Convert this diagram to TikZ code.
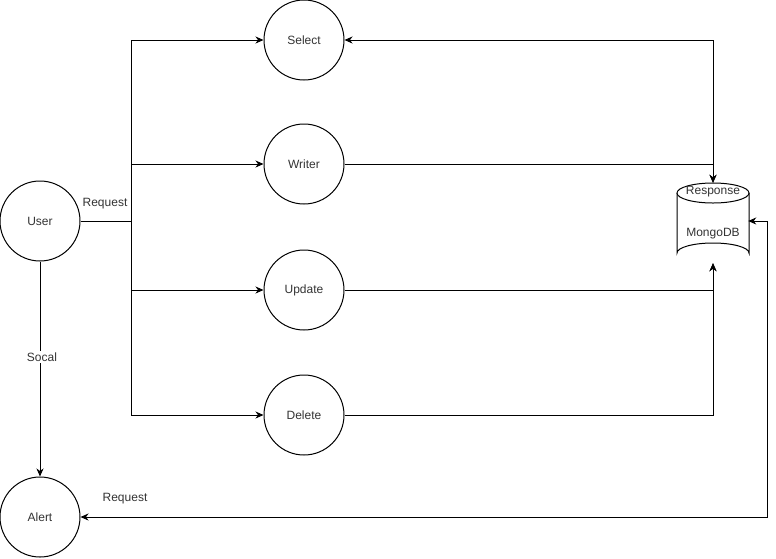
\documentclass[tikz,border=0pt]{standalone}
\usepackage{fontspec}
\setmainfont{Liberation Sans}
\usetikzlibrary{arrows.meta,calc}
\begin{document}
\begin{tikzpicture}[x=1pt,y=-1pt,
  every node/.style={font=\fontsize{12}{14}\selectfont, text=black!80},
  proc/.style={circle, draw, line width=1pt, minimum size=80pt, inner sep=0pt},
  conn/.style={line width=1pt, -{Stealth[length=8pt,width=7pt,inset=2.5pt]}},
  bconn/.style={line width=1pt, {Stealth[length=8pt,width=7pt,inset=2.5pt]}-{Stealth[length=8pt,width=7pt,inset=2.5pt]}},
  plain/.style={line width=1pt},
  lbl/.style={fill=white, inner sep=2pt}]
\useasboundingbox (0,0) rectangle (776,558);
\node[proc] (user) at (40,221) {User};
\node[proc] (alert) at (40,517) {Alert};
\node[proc] (select) at (304,40) {Select};
\node[proc] (writer) at (304,164) {Writer};
\node[proc] (update) at (304,290) {Update};
\node[proc] (delete) at (304,415) {Delete};
% MongoDB cylinder
\node[minimum width=70pt, minimum height=80pt, inner sep=0pt] (mongo) at (713,223) {};
\draw[line width=1pt, fill=white] (677,193) -- (677,253) arc[start angle=180, end angle=360, x radius=36, y radius=10] -- (749,193);
\draw[line width=1pt, fill=white] (713,193) ellipse[x radius=36, y radius=10];
\node (resp) at (713,192) {Response};
\node (mdb) at (713,234) {MongoDB};
% branch spine
\coordinate (bx) at (131,221);
\draw[plain] (user.east) -- (bx);
\draw[conn] (bx) |- (select.west);
\draw[conn] (bx) |- (writer.west);
\draw[conn] (bx) |- (update.west);
\draw[conn] (bx) |- (delete.west);
\node (req1) at (105,204) {Request};
% to database
\draw[bconn] (select.east) -| (mongo.north);
\draw[conn] (writer.east) -| (mongo.north);
\draw[conn] (update.east) -| (mongo.south);
\draw[conn] (delete.east) -| (mongo.south);
% user to alert
\draw[conn] (user.south) -- (alert.north);
\node[lbl] (socal) at (42,357) {Socal};
% alert to db
\coordinate (rc1) at (767,517);
\coordinate (rc2) at (767,221);
\draw[bconn] (alert.east) -- (rc1) -- (rc2) -- (mongo.east |- rc2);
\node (req2) at (125,499) {Request};
\end{tikzpicture}
\end{document}
